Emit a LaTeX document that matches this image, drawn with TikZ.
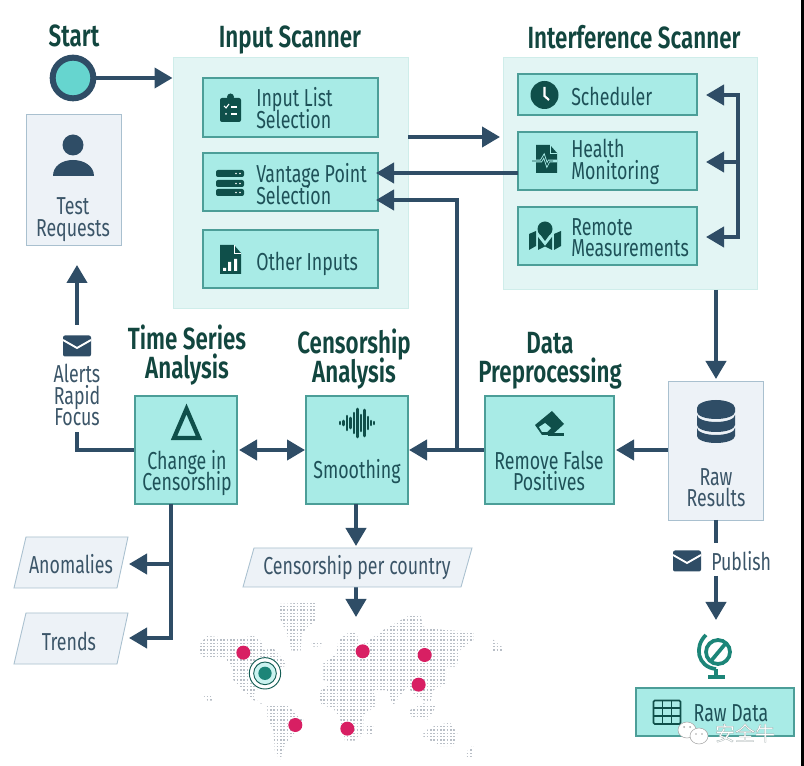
\documentclass[tikz,border=0pt]{standalone}
\usepackage{fontspec}
\usetikzlibrary{arrows.meta,calc}
\setmainfont{Fira Sans}[FakeStretch=0.725]
\newfontfamily\titlefont{Fira Sans SemiBold}[FakeStretch=0.73]
\newfontfamily\cjkfont{Noto Sans CJK SC}
\definecolor{arrowc}{HTML}{2F4D66}
\definecolor{panelc}{HTML}{E3F5F4}
\definecolor{panelb}{HTML}{CFEDEA}
\definecolor{boxc}{HTML}{A8EBE6}
\definecolor{boxb}{HTML}{4C9E98}
\definecolor{greyc}{HTML}{EDF2F7}
\definecolor{greyb}{HTML}{A9C0CF}
\definecolor{titlec}{HTML}{12463F}
\definecolor{textc}{HTML}{1E5158}
\definecolor{slatec}{HTML}{3B5568}
\definecolor{iconc}{HTML}{0F4F4A}
\definecolor{mapc}{HTML}{B8BEC6}
\definecolor{pinc}{HTML}{D81F63}
\definecolor{tealc}{HTML}{1C8578}
\definecolor{startc}{HTML}{66D5CF}
\newcommand{\bodyfont}{\fontsize{18.4}{16}\selectfont\setlength{\lineskiplimit}{-30pt}}
\newcommand{\headfont}{\titlefont\fontsize{23}{21.5}\selectfont\setlength{\lineskiplimit}{-30pt}}
\tikzset{
 x=0.75pt,y=-0.75pt,
 conn/.style={draw=arrowc,line width=3pt,line join=miter},
 arr/.style={conn,-{Triangle[length=13.5pt,width=15pt]}},
 arrb/.style={conn,{Triangle[length=13.5pt,width=15pt]}-{Triangle[length=13.5pt,width=15pt]}},
 panel/.style={draw=panelb,fill=panelc,line width=.75pt,inner sep=0pt},
 tealbox/.style={draw=boxb,fill=boxc,line width=.8pt,inner sep=0pt},
 greybox/.style={draw=greyb,fill=greyc,line width=.65pt,inner sep=0pt},
 para/.style={draw=greyb,fill=greyc,line width=.65pt},
 ttl/.style={text=titlec,align=center,font=\headfont,inner sep=0pt},
 lbl/.style={text=textc,align=left,font=\bodyfont,inner sep=0pt},
 lblc/.style={text=textc,align=center,font=\bodyfont,inner sep=0pt},
 slat/.style={text=slatec,align=center,font=\bodyfont,inner sep=0pt},
}
\newcommand{\boxat}[7]{\node[#1,minimum width=#5*0.75pt-#3*0.75pt,minimum height=#6*0.75pt-#4*0.75pt] (#2) at ({(#3+#5)/2},{(#4+#6)/2}) {#7};}
\newcommand{\mailicon}[2]{%
 \fill[arrowc,rounded corners=1.5pt] (#1-14,#2-10.5) rectangle (#1+14,#2+10.5);
 \draw[white,line width=1.4pt] (#1-14,#2-6) -- (#1,#2+2) -- (#1+14,#2-6);}
\begin{document}
\begin{tikzpicture}
\useasboundingbox (0,0) rectangle (804,766);
\fill[white] (0,0) rectangle (804,766);
% panels
\boxat{panel}{inputpanel}{173}{58}{408}{309}{}
\boxat{panel}{intfpanel}{503}{58}{757}{290}{}
% boxes
\boxat{tealbox}{inlist}{203}{78}{378}{137}{}
\boxat{tealbox}{vantage}{203}{153}{378}{211}{}
\boxat{tealbox}{other}{203}{230}{378}{288}{}
\boxat{tealbox}{sched}{518}{74}{697}{115}{}
\boxat{tealbox}{health}{518}{132}{697}{190}{}
\boxat{tealbox}{remote}{518}{207}{697}{265}{}
\boxat{tealbox}{change}{135}{396}{237}{504}{}
\boxat{tealbox}{smooth}{306}{396}{408}{504}{}
\boxat{tealbox}{remove}{485}{396}{614}{504}{}
\boxat{tealbox}{rawdata}{636}{688}{794}{736}{}
\boxat{greybox}{testreq}{26}{114}{121}{245}{}
\boxat{greybox}{rawres}{668}{381}{763}{520}{}
% start
\node[circle,draw=arrowc,fill=startc,line width=4.5pt,minimum size=30.5pt,inner sep=0pt] (start) at (73,78) {};
% titles
\node[ttl] (t1) at (74,36) {Start};
\node[ttl] (t2) at (290,40) {Input Scanner};
\node[ttl] (t3) at (634,37) {Interference Scanner};
\node[ttl] (t4) at (187,355) {Time Series\\Analysis};
\node[ttl] (t5) at (354,359) {Censorship\\Analysis};
\node[ttl] (t6) at (550,361) {Data\\Preprocessing};
% labels
\node[lbl,anchor=west] (l1) at (256,108) {Input List\\Selection};
\node[lbl,anchor=west] (l2) at (256,184) {Vantage Point\\Selection};
\node[lbl,anchor=west] (l3) at (256,264) {Other Inputs};
\node[lbl,anchor=west] (l4) at (571,96) {Scheduler};
\node[lbl,anchor=west] (l5) at (571,162) {Health\\Monitoring};
\node[lbl,anchor=west] (l6) at (571,238) {Remote\\Measurements};
\node[lblc] (l7) at (187,473) {Change in\\Censorship};
\node[lblc] (l8) at (357,472) {Smoothing};
\node[lblc] (l9) at (549,471) {Remove False\\Positives};
\node[lblc] (l10) at (731,713) {Raw Data};
\node[slat] (s1) at (73,219.5) {Test\\Requests};
\node[slat] (s2) at (716,488) {Raw\\Results};
\node[slat] (alerts) at (77,395) {Alerts\\Rapid\\Focus};
\node[slat,anchor=west] (publish) at (711,561) {Publish};
% connectors
\coordinate (mailtop) at (77,325);
\coordinate (reqtip) at (77,265);
\draw[arr] (start.east) -- (inputpanel.west |- start.east);
\draw[arr] (mailtop) -- (reqtip);
\coordinate (alertend) at (77,432);
\draw[conn] (change.west |- 0,450) -| (alertend);
\coordinate (a1s) at (408,137);
\coordinate (a1e) at (500,137);
\draw[arr] (a1s) -- (a1e);
\coordinate (v1) at (376,173);
\coordinate (v2) at (376,200);
\coordinate (h1) at (518,173);
\draw[arr] (h1) -- (v1);
\coordinate (jn) at (457,450);
\draw[arr] (jn) -- (457,200) -- (v2);
\coordinate (b1) at (738,95);
\coordinate (b2) at (738,237);
\coordinate (b3) at (738,162);
\draw[arrb] (706,95) -- (b1) -- (b2) -- (706,237);
\draw[arr] (b3) -- (706,162);
\draw[arr] (716,290) -- (716,379);
\draw[arr] (rawres.west |- 0,450) -- (616,450);
\draw[arr] (remove.west |- 0,450) -- (409,450);
\draw[arrb] (239,450) -- (305,450);
\draw[arr] (356,504) -- (356,546);
\coordinate (censbot) at (356,587);
\draw[arr] (censbot) -- (356,617);
\draw[conn] (716,520) -- (716,543);
\draw[arr] (716,576) -- (716,620);
\coordinate (bus) at (170.5,564);
\draw[arr] (170.5,504) -- (170.5,638) -- (129,638);
\draw[arr] (bus) -- (129,564);
% parallelograms
\filldraw[para] (26,537) -- (128,537) -- (117,588) -- (14,588) -- cycle;
\filldraw[para] (26,613) -- (128,613) -- (117,664) -- (14,664) -- cycle;
\filldraw[para] (254,548) -- (472,548) -- (461,587) -- (243,587) -- cycle;
\node[slat] (anom) at (71,564) {Anomalies};
\node[slat] (trends) at (69,641) {Trends};
\node[slat] (cpc) at (357,568) {Censorship per country};
% ICONS
% person
\fill[arrowc] (73,145) circle (10.5);
\fill[arrowc] (53,176) .. controls (53,166) and (62,160) .. (73,160) .. controls (84,160) and (94,166) .. (94,176) -- cycle;
% clipboard
\fill[iconc,rounded corners=1.5pt] (220,98) rectangle (241,122);
\fill[iconc] (230.5,97) circle (3.5);
\draw[white,line width=.8pt] (224,106) -- (226,108) -- (229,104);
\draw[white,line width=.8pt] (231,107) -- (237,107) (231,114) -- (237,114);
\fill[white] (226,114) circle (1);
% server
\foreach \yy in {170,180,189}{
 \fill[iconc,rounded corners=1.5pt] (216,\yy) rectangle (244,\yy+7);
 \fill[white] (236,\yy+3.5) circle (.9) (240,\yy+3.5) circle (.9);}
% file chart
\fill[iconc] (220,245) -- (234,245) -- (241,253) -- (241,274) -- (220,274) -- cycle;
\draw[white,line width=.7pt] (234,245) -- (234,253) -- (241,253);
\fill[white] (223,268) rectangle (226,271) (228,262) rectangle (231,271) (234,259) rectangle (237,271);
% clock
\fill[iconc] (544.5,95) circle (14);
\draw[white,line width=1.6pt] (544.5,87) -- (544.5,96) -- (549,100);
% health
\fill[iconc] (536,145) -- (550,145) -- (557,153) -- (557,173) -- (536,173) -- cycle;
\draw[boxc,line width=.7pt] (550,145) -- (550,153) -- (557,153);
\draw[boxc,line width=2pt] (533,161) -- (541,161) -- (544,156) -- (547,165) -- (549,161) -- (557,161);
\draw[iconc,line width=.7pt] (532,161) -- (541,161) -- (544,156) -- (547,165) -- (549,161) -- (553,161);
% map
\fill[iconc] (529,234) -- (536,231) -- (536,246) -- (529,250) -- cycle;
\fill[iconc] (538,237) -- (545,246) -- (552,237) -- (552,250) -- (545,246.5) -- (538,250) -- cycle;
\fill[iconc] (554,234) -- (561,231) -- (561,246) -- (554,250) -- cycle;
\fill[iconc] (545,229) circle (7.5);
\fill[iconc] (538.5,232) -- (551.5,232) -- (545,241) -- cycle;
% delta
\draw[iconc,line width=3.2pt,line join=miter] (186.5,409) -- (174,438) -- (199,438) -- cycle;
% wave
\foreach \xx/\hh in {340/1,343.5/2,347/7,350.5/5,354/10,357.5/14,361/8,364.5/13,368/6,371/2,374/1}{
 \draw[iconc,line width=1.9pt,line cap=round] (\xx,423-\hh) -- (\xx,423+\hh);}
% eraser
\fill[iconc] (535,425) -- (552,411) -- (564,424) -- (552,435) -- (542,435) -- cycle;
\fill[boxc] (539,427) -- (545,423) -- (551,428) -- (547,432) -- (542,432) -- cycle;
\fill[iconc] (548,433) rectangle (563.5,436);
% database
\fill[arrowc] (697,408) arc (180:360:19 and 8) -- (735,412) arc (0:180:19 and 7) -- cycle;
\fill[arrowc] (697,415) arc (180:0:19 and 7) -- (735,425) arc (0:180:19 and 7) -- cycle;
\fill[arrowc] (697,428) arc (180:0:19 and 7) -- (735,436) arc (0:180:19 and 7) -- cycle;
% mail
\mailicon{77}{346}
\mailicon{687}{561}
% globe
\draw[tealc,line width=2.8pt] (718,652) circle (12);
\draw[tealc,line width=2.8pt] (711,661) -- (726,643);
\draw[tealc,line width=2.8pt] (706,635) .. controls (694,646) and (697,667) .. (716,669);
\draw[tealc,line width=2.8pt] (716,669) -- (716,677);
\draw[tealc,line width=2.8pt] (708,677) -- (725,677);
% table
\draw[iconc,line width=1.2pt,rounded corners=1pt] (653.5,700.5) rectangle (680.5,724);
\draw[iconc,line width=1.2pt] (653.5,708) -- (680.5,708) (653.5,716) -- (680.5,716) (662.5,700.5) -- (662.5,724) (671.5,700.5) -- (671.5,724);
% world map
\begin{scope}[shift={(190,590)},x=0.25pt,y=-0.25pt]
\begin{scope}
\clip (270,42)--(380,36)--(378,90)--(335,130)--(332,182)--(305,182)--(290,130)--(270,85)--cycle
 (28,165)--(50,138)--(130,145)--(190,138)--(215,155)--(220,180)--(250,175)--(292,225)--(255,240)--(230,290)--(195,300)--(190,325)--(222,345)--(290,345)--(340,390)--(320,420)--(282,470)--(272,508)--(255,490)--(250,420)--(232,385)--(232,350)--(180,325)--(130,270)--(125,230)--(100,200)--(40,205)--(28,185)--cycle
 (385,310)--(420,275)--(400,270)--(400,220)--(440,190)--(445,150)--(480,125)--(500,130)--(510,170)--(580,120)--(660,75)--(690,72)--(700,110)--(760,120)--(850,125)--(850,150)--(810,180)--(800,230)--(770,230)--(770,280)--(730,300)--(720,340)--(680,320)--(650,290)--(610,345)--(590,300)--(550,300)--(560,345)--(520,375)--(520,430)--(497,452)--(465,452)--(450,385)--(430,355)--(395,345)--cycle
 (650,365)--(700,340)--(740,345)--(715,388)--(670,385)--cycle
 (700,425)--(740,405)--(780,398)--(802,430)--(790,468)--(750,468)--(700,440)--cycle
 (530,405)--(550,405)--(545,435)--(530,435)--cycle
 (825,490)--(850,465)--(845,502)--(825,502)--cycle
 (365,160)--(397,155)--(390,170)--(370,170)--cycle
 (908,148)--(935,170)--(940,186)--(908,186)--cycle
 (38,312)--(60,312)--(67,332)--(50,332)--cycle;
\foreach \yy in {30,40,...,510}{
 \draw[mapc,line width=1.1pt,dash pattern=on 1.25pt off 1.25pt] (0,\yy) -- (960,\yy);}
\end{scope}
\foreach \xx/\yy in {160/188,518/184,704/195,686/284,316/405,472/416}{
 \fill[pinc] (\xx,\yy) circle (21);}
\fill[white] (225,250) circle (48);
\draw[tealc!70!black,line width=.7pt] (225,250) circle (47);
\fill[boxc!60!white] (225,250) circle (34);
\draw[tealc!70!black,line width=.7pt] (225,250) circle (34);
\fill[tealc] (225,250) circle (20);
\end{scope}
% watermark
\begin{scope}[fill=white,draw=gray!70,line width=.4pt]
\filldraw (687,730) ellipse (9 and 8);
\filldraw (699,736) ellipse (9 and 8);
\fill[gray!70] (684,727) circle (1) (690,727) circle (1) (696,734) circle (.8) (702,734) circle (.8);
\end{scope}
\node[inner sep=0pt,text=white,font=\cjkfont\fontsize{15}{15}\selectfont] (wm) at (745,733) {\special{pdf:code 2 Tr 0.2 w 0.6 0.65 0.65 RG}安全牛};
% edge strip
\fill[black] (801,0) rectangle (804,766);
\end{tikzpicture}
\end{document}
